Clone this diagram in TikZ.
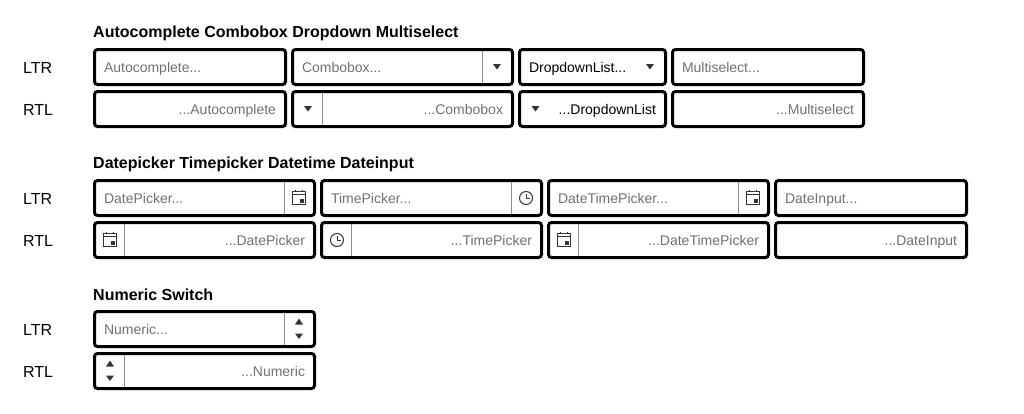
\documentclass[tikz,border=0pt]{standalone}
\usepackage{fontspec}
\setmainfont{Liberation Sans}
\definecolor{hintgray}{HTML}{707070}
\definecolor{icongray}{HTML}{333333}
\definecolor{sepgray}{HTML}{8C8C8C}
\tikzset{
  fieldbox/.style={draw=black, line width=3pt, rounded corners=3pt, anchor=north west, outer sep=0pt,
    inner xsep=9.5pt, inner ysep=0pt, minimum height=35pt, minimum width=#1, text width=#1-19pt,
    text height=11pt, text depth=1pt, font=\fontsize{14}{16}\selectfont},
  ltrhint/.style={fieldbox=#1, align=left, text=hintgray},
  rtlhint/.style={fieldbox=#1, align=right, text=hintgray},
  ltrtext/.style={fieldbox=#1, align=left, text=black},
  rtltext/.style={fieldbox=#1, align=right, text=black},
  rowlabel/.style={anchor=west, inner sep=0pt, font=\fontsize{16}{18}\selectfont},
  grouptitle/.style={anchor=west, inner sep=0pt, font=\fontsize{16}{18}\selectfont\bfseries},
  sepline/.style={draw=sepgray, line width=1pt, shorten <=1.5pt, shorten >=1.5pt},
  pics/caretdown/.style={code={\fill[icongray] (-4,-3) -- (4,-3) -- (0,2.5) -- cycle;}},
  pics/caretup/.style={code={\fill[icongray] (-4,3) -- (4,3) -- (0,-3) -- cycle;}},
  pics/calicon/.style={code={
    \draw[icongray, line width=1pt] (-6.3,-6.3) rectangle (6.3,6);
    \draw[icongray, line width=1pt] (-6.3,-4) -- (6.3,-4);
    \fill[icongray] (-4.2,-8) rectangle (-3,-5.8);
    \fill[icongray] (3,-8) rectangle (4.2,-5.8);
    \fill[icongray] (0.5,1) rectangle (5,5);}},
  pics/clockicon/.style={code={
    \draw[icongray, line width=1pt] (0,0) circle (6.5);
    \draw[icongray, line width=1pt] (0,-4) -- (0,0.5) -- (3.5,0.5);}},
  pics/spinicon/.style={code={
    \pic at (0,-7.5) {caretup};
    \pic at (0,7.5) {caretdown};}}
}
\begin{document}
\begin{tikzpicture}[x=1pt, y=-1pt]
  \useasboundingbox (0,0) rectangle (1024,413);

  \node[grouptitle] (title1) at (93,33) {Autocomplete Combobox Dropdown Multiselect};
  \node[rowlabel] (ltr1) at (23,68) {LTR};
  \node[rowlabel] (rtl1) at (23,110) {RTL};

  \node[ltrhint=191pt] (auto1) at (94.5,49.5) {Autocomplete...};
  \node[ltrhint=220pt] (combo1) at (292.5,49.5) {Combobox...};
  \node[ltrtext=146pt] (drop1) at (519.5,49.5) {DropdownList...};
  \node[ltrhint=191pt] (multi1) at (672.5,49.5) {Multiselect...};
  \node[rtlhint=191pt] (auto2) at (94.5,91.5) {...Autocomplete};
  \node[rtlhint=220pt] (combo2) at (292.5,91.5) {...Combobox};
  \node[rtltext=146pt] (drop2) at (519.5,91.5) {...DropdownList};
  \node[rtlhint=191pt] (multi2) at (672.5,91.5) {...Multiselect};

  \draw[sepline] ([xshift=-30pt]combo1.north east) -- ([xshift=-30pt]combo1.south east);
  \draw[sepline] ([xshift=30pt]combo2.north west) -- ([xshift=30pt]combo2.south west);
  \pic at ([xshift=-15.5pt]combo1.east) {caretdown};
  \pic at ([xshift=15.5pt]combo2.west) {caretdown};
  \pic at ([xshift=-15.5pt]drop1.east) {caretdown};
  \pic at ([xshift=16pt]drop2.west) {caretdown};

  \node[grouptitle] (title2) at (93,164) {Datepicker Timepicker Datetime Dateinput};
  \node[rowlabel] (ltr2) at (23,199) {LTR};
  \node[rowlabel] (rtl2) at (23,241) {RTL};

  \node[ltrhint=220pt] (date1) at (94.5,180.5) {DatePicker...};
  \node[ltrhint=220pt] (time1) at (321.5,180.5) {TimePicker...};
  \node[ltrhint=220pt] (dtime1) at (548.5,180.5) {DateTimePicker...};
  \node[ltrhint=191pt] (dinput1) at (775.5,180.5) {DateInput...};
  \node[rtlhint=220pt] (date2) at (94.5,222.5) {...DatePicker};
  \node[rtlhint=220pt] (time2) at (321.5,222.5) {...TimePicker};
  \node[rtlhint=220pt] (dtime2) at (548.5,222.5) {...DateTimePicker};
  \node[rtlhint=191pt] (dinput2) at (775.5,222.5) {...DateInput};

  \draw[sepline] ([xshift=-30pt]date1.north east) -- ([xshift=-30pt]date1.south east);
  \draw[sepline] ([xshift=-30pt]time1.north east) -- ([xshift=-30pt]time1.south east);
  \draw[sepline] ([xshift=-30pt]dtime1.north east) -- ([xshift=-30pt]dtime1.south east);
  \draw[sepline] ([xshift=30pt]date2.north west) -- ([xshift=30pt]date2.south west);
  \draw[sepline] ([xshift=30pt]time2.north west) -- ([xshift=30pt]time2.south west);
  \draw[sepline] ([xshift=30pt]dtime2.north west) -- ([xshift=30pt]dtime2.south west);
  \pic at ([xshift=-15.5pt]date1.east) {calicon};
  \pic at ([xshift=-15.5pt]time1.east) {clockicon};
  \pic at ([xshift=-15.5pt]dtime1.east) {calicon};
  \pic at ([xshift=15.5pt]date2.west) {calicon};
  \pic at ([xshift=15.5pt]time2.west) {clockicon};
  \pic at ([xshift=15.5pt]dtime2.west) {calicon};

  \node[grouptitle] (title3) at (93,295) {Numeric Switch};
  \node[rowlabel] (ltr3) at (23,330) {LTR};
  \node[rowlabel] (rtl3) at (23,372) {RTL};

  \node[ltrhint=220pt] (num1) at (94.5,311.5) {Numeric...};
  \node[rtlhint=220pt] (num2) at (94.5,353.5) {...Numeric};

  \draw[sepline] ([xshift=-30pt]num1.north east) -- ([xshift=-30pt]num1.south east);
  \draw[sepline] ([xshift=30pt]num2.north west) -- ([xshift=30pt]num2.south west);
  \pic at ([xshift=-15.5pt]num1.east) {spinicon};
  \pic at ([xshift=15.5pt]num2.west) {spinicon};
\end{tikzpicture}
\end{document}
